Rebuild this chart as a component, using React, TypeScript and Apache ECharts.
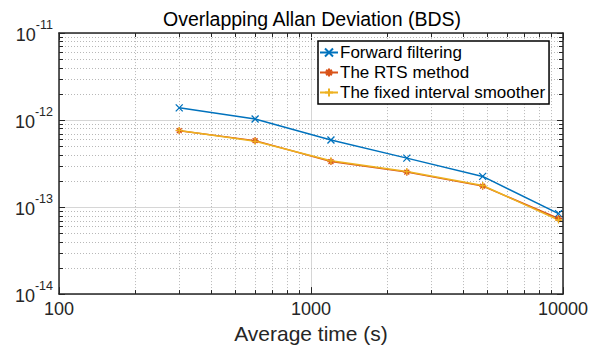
import React, { useEffect, useRef } from "react";
import * as echarts from "echarts";

const titleText = "Overlapping Allan Deviation (BDS)";
const xName = "Average time (s)";
const seriesNames = ["Forward filtering", "The RTS method", "The fixed interval smoother"];
const seriesColors = ["#0072BD", "#D95319", "#EDB120"];

const averageTimes = [300, 600, 1200, 2400, 4800, 9600];
const forwardFiltering = [1.38e-12, 1.03e-12, 5.9e-13, 3.65e-13, 2.25e-13, 8.4e-14];
const rtsMethod = [7.55e-13, 5.8e-13, 3.33e-13, 2.52e-13, 1.74e-13, 7.4e-14];
const fixedInterval = [7.6e-13, 5.7e-13, 3.4e-13, 2.56e-13, 1.77e-13, 7.1e-14];

const xMin = 100;
const xMax = 10000;
const yMin = 1e-14;
const yMax = 1e-11;

const minorX = [200, 300, 400, 500, 600, 700, 800, 900, 2000, 3000, 4000, 5000, 6000, 7000, 8000, 9000];
const minorY = [
  2e-14, 3e-14, 4e-14, 5e-14, 6e-14, 7e-14, 8e-14, 9e-14,
  2e-13, 3e-13, 4e-13, 5e-13, 6e-13, 7e-13, 8e-13, 9e-13,
  2e-12, 3e-12, 4e-12, 5e-12, 6e-12, 7e-12, 8e-12, 9e-12,
];

const FONT = "'Liberation Sans', Arial, sans-serif";
const AXIS_COLOR = "#262626";
const MINOR_COLOR = "#b8b8b8";

const SYM_X = "path://M0,0L10,10M10,0L0,10";
const SYM_STAR = "path://M0,5L10,5M5,0L5,10M1.5,1.5L8.5,8.5M8.5,1.5L1.5,8.5";
const SYM_PLUS = "path://M0,5L10,5M5,0L5,10";
const symbols = [SYM_X, SYM_STAR, SYM_PLUS];
const values = [forwardFiltering, rtsMethod, fixedInterval];

export default function App() {
  const ref = useRef<HTMLDivElement>(null);
  useEffect(() => {
    if (!ref.current) return;
    const chart = echarts.init(ref.current, null, { renderer: "svg" });

    const dataSeries = seriesNames.map((name, i) => ({
      name,
      type: "line",
      xAxisIndex: 0,
      yAxisIndex: 0,
      data: averageTimes.map((x, j) => [x, values[i][j]]),
      symbol: symbols[i],
      symbolSize: 7,
      showSymbol: true,
      lineStyle: { color: seriesColors[i], width: 1.5 },
      itemStyle: { color: seriesColors[i], borderColor: seriesColors[i], borderWidth: 1.3 },
      z: 5,
    }));

    const minorYSeries = {
      type: "custom",
      silent: true,
      xAxisIndex: 0,
      yAxisIndex: 0,
      z: 1,
      data: minorY.map((v) => [xMin, v]),
      renderItem: (params: any, api: any) => {
        const v = api.value(1);
        const p0 = api.coord([xMin, v]);
        const p1 = api.coord([xMax, v]);
        const y = Math.round(p0[1]) + 0.5;
        return {
          type: "group",
          children: [
            { type: "line", shape: { x1: p0[0], y1: y, x2: p1[0], y2: y }, style: { stroke: MINOR_COLOR, lineWidth: 1, lineDash: [1, 2] } },
            { type: "line", shape: { x1: p0[0], y1: y, x2: p0[0] + 4, y2: y }, style: { stroke: AXIS_COLOR, lineWidth: 1 } },
            { type: "line", shape: { x1: p1[0] - 4, y1: y, x2: p1[0], y2: y }, style: { stroke: AXIS_COLOR, lineWidth: 1 } },
          ],
        };
      },
    };

    const minorXSeries = {
      type: "custom",
      silent: true,
      xAxisIndex: 0,
      yAxisIndex: 0,
      z: 1,
      data: minorX.map((v) => [v, yMin]),
      renderItem: (params: any, api: any) => {
        const v = api.value(0);
        const p0 = api.coord([v, yMin]);
        const p1 = api.coord([v, yMax]);
        const x = Math.round(p0[0]) + 0.5;
        return {
          type: "group",
          children: [
            { type: "line", shape: { x1: x, y1: p0[1], x2: x, y2: p1[1] }, style: { stroke: MINOR_COLOR, lineWidth: 1, lineDash: [1, 2] } },
            { type: "line", shape: { x1: x, y1: p0[1], x2: x, y2: p0[1] - 4 }, style: { stroke: AXIS_COLOR, lineWidth: 1 } },
            { type: "line", shape: { x1: x, y1: p1[1] + 4, x2: x, y2: p1[1] }, style: { stroke: AXIS_COLOR, lineWidth: 1 } },
          ],
        };
      },
    };

    const axisLine = { show: true, onZero: false, lineStyle: { color: AXIS_COLOR, width: 1.5 } };
    const axisTick = { show: true, inside: true, length: 6, lineStyle: { color: AXIS_COLOR, width: 1 } };

    chart.setOption({
      animation: false,
      backgroundColor: "#ffffff",
      textStyle: { fontFamily: FONT },
      title: {
        text: titleText,
        left: 163,
        top: 9,
        padding: 0,
        textStyle: { fontFamily: FONT, fontSize: 19.5, fontWeight: "normal", color: "#000000" },
      },
      legend: {
        data: seriesNames,
        orient: "vertical",
        left: 318,
        top: 41,
        padding: [3, 4, 3, 1],
        itemGap: 3,
        itemWidth: 18,
        itemHeight: 10,
        backgroundColor: "#ffffff",
        borderColor: "#000000",
        borderWidth: 1.5,
        borderRadius: 0,
        textStyle: { fontFamily: FONT, fontSize: 17, color: "#000000", lineHeight: 17, padding: [0, 0, 0, -3] },
      },
      grid: { left: 59, top: 33, width: 504, height: 263, containLabel: false },
      xAxis: [
        {
          type: "log",
          logBase: 10,
          min: xMin,
          max: xMax,
          position: "bottom",
          axisLine,
          axisTick: { ...axisTick, length: 7 },
          axisLabel: {
            fontFamily: FONT,
            fontSize: 18,
            color: "#262626",
            margin: 6,
            formatter: (v: number) => String(Math.round(v)),
          },
          splitLine: { show: true, lineStyle: { color: "#d6d6d6", width: 1 } },
          name: xName,
          nameLocation: "middle",
          nameGap: 28,
          nameTextStyle: { fontFamily: FONT, fontSize: 21, color: "#262626" },
        },
        {
          type: "log",
          logBase: 10,
          min: xMin,
          max: xMax,
          position: "top",
          axisLine,
          axisTick: { ...axisTick, length: 7 },
          axisLabel: { show: false },
          splitLine: { show: false },
        },
      ],
      yAxis: [
        {
          type: "log",
          logBase: 10,
          min: yMin,
          max: yMax,
          position: "left",
          axisLine,
          axisTick,
          axisLabel: {
            margin: 6,
            color: "#262626",
            fontFamily: FONT,
            formatter: (v: number) => `{b|10}{e|${Math.round(Math.log10(v))}}`,
            rich: {
              b: { fontFamily: FONT, fontSize: 18, color: "#262626", lineHeight: 22, verticalAlign: "bottom" },
              e: { fontFamily: FONT, fontSize: 12.5, color: "#262626", lineHeight: 12, padding: [0, 0, 13, 0], verticalAlign: "bottom" },
            },
          },
          splitLine: { show: true, lineStyle: { color: "#d6d6d6", width: 1 } },
        },
        {
          type: "log",
          logBase: 10,
          min: yMin,
          max: yMax,
          position: "right",
          axisLine,
          axisTick,
          axisLabel: { show: false },
          splitLine: { show: false },
        },
      ],
      series: [minorYSeries, minorXSeries, ...dataSeries],
    });
    return () => chart.dispose();
  }, []);
  return <div ref={ref} style={{ position: "absolute", left: 0, top: 0, width: 592, height: 349 }} />;
}
